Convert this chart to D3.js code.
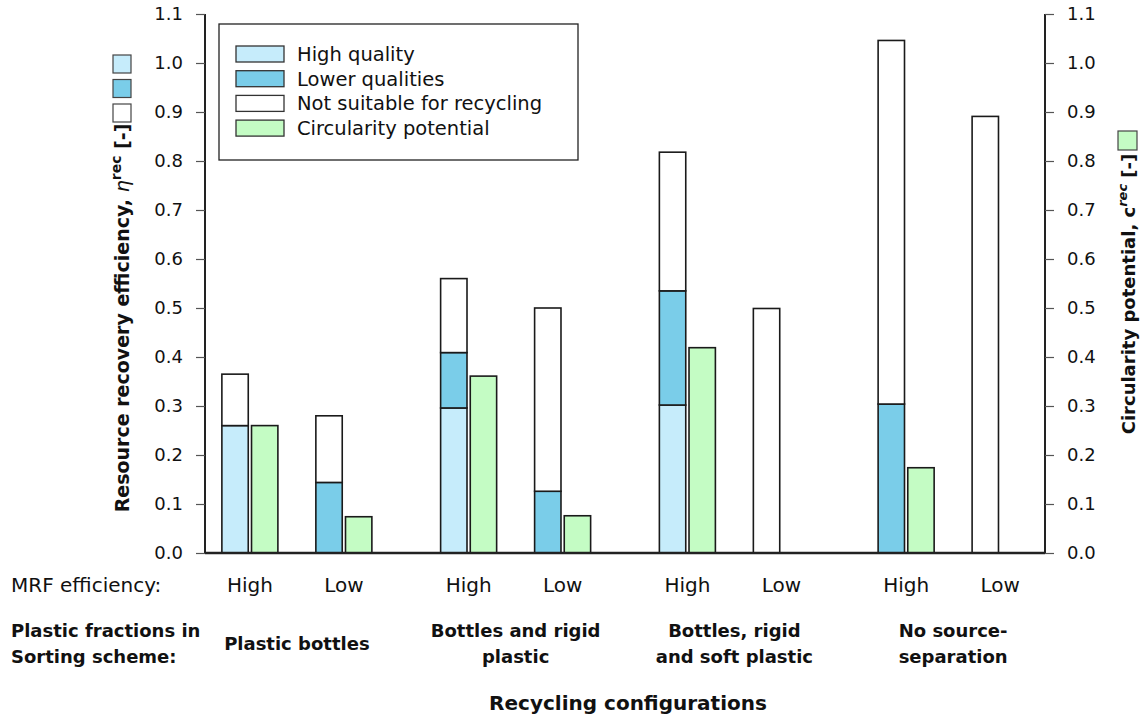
<!DOCTYPE html>
<html>
<head>
<meta charset="utf-8">
<script src="https://cdn.jsdelivr.net/npm/d3@7"></script>
<style>
  body { margin: 0; background: #fff; }
  svg { font-family: "DejaVu Sans", sans-serif; }
</style>
</head>
<body>
<div id="chart"></div>
<script>
// data
const groups = ["Plastic bottles", "Bottles and rigid plastic", "Bottles, rigid and soft plastic", "No source-separation"];
const groupLines = [["Plastic bottles"], ["Bottles and rigid", "plastic"], ["Bottles, rigid", "and soft plastic"], ["No source-", "separation"]];
const mrfLevels = ["High", "Low"];
// one entry per (group, MRF efficiency): G1 High, G1 Low, G2 High, ...
const highQuality    = [0.260, 0.000, 0.296, 0.000, 0.302, 0.000, 0.000, 0.000];
const lowerQualities = [0.000, 0.144, 0.113, 0.126, 0.233, 0.000, 0.304, 0.000];
const notSuitable    = [0.105, 0.136, 0.151, 0.374, 0.283, 0.499, 0.742, 0.891];
const circularity    = [0.260, 0.074, 0.361, 0.076, 0.419, 0.000, 0.174, 0.000];
const yTicks = [0, 0.1, 0.2, 0.3, 0.4, 0.5, 0.6, 0.7, 0.8, 0.9, 1.0, 1.1];
const legendLabels = ["High quality", "Lower qualities", "Not suitable for recycling", "Circularity potential"];

function recyclingChart() {
    const W = 1143, H = 720;
    const x0 = 205, x1 = 1045, yBottom = 553, yTop = 14;

    const svg = d3.select("#chart")
        .append("svg")
        .attr("width", W)
        .attr("height", H);

    const keys = ["hq", "lq", "ns"];
    const color = d3.scaleOrdinal()
        .domain(["hq", "lq", "ns", "circ"])
        .range(["#c6ecfb", "#7acde9", "#ffffff", "#c4fcc4"]);

    // build rows
    const rows = [];
    groups.forEach((g, gi) => {
        mrfLevels.forEach((m, mi) => {
            const i = gi * 2 + mi;
            rows.push({ group: g, mrf: m, hq: highQuality[i], lq: lowerQualities[i], ns: notSuitable[i], circ: circularity[i] });
        });
    });

    // scales
    const xGroup = d3.scalePoint().domain(groups).range([x0, x1]).padding(0.42);
    const xMrf = d3.scaleBand().domain(mrfLevels).range([-75, 75]).paddingInner(0.404);
    const xKind = d3.scaleBand().domain(["stack", "circ"]).range([0, xMrf.bandwidth()]).paddingInner(0.11);
    const y = d3.scaleLinear().domain([0, 1.1]).range([yBottom, yTop]);

    const barX = (d, kind) => xGroup(d.group) + xMrf(d.mrf) + xKind(kind);

    // stacked bars
    const stacked = d3.stack().keys(keys)(rows);
    svg.append("g")
        .selectAll("g")
        .data(stacked)
        .join("g")
        .attr("fill", d => color(d.key))
        .selectAll("rect")
        .data(d => d)
        .join("rect")
        .attr("x", d => barX(d.data, "stack"))
        .attr("y", d => y(d[1]))
        .attr("width", xKind.bandwidth())
        .attr("height", d => y(d[0]) - y(d[1]))
        .attr("stroke", "#1a1a1a")
        .attr("stroke-width", 1.6);

    // circularity bars
    svg.append("g")
        .selectAll("rect")
        .data(rows.filter(d => d.circ > 0))
        .join("rect")
        .attr("x", d => barX(d, "circ"))
        .attr("y", d => y(d.circ))
        .attr("width", xKind.bandwidth())
        .attr("height", d => y(0) - y(d.circ))
        .attr("fill", color("circ"))
        .attr("stroke", "#1a1a1a")
        .attr("stroke-width", 1.6);

    // axes
    const leftAxis = svg.append("g")
        .attr("transform", `translate(${x0},0)`)
        .call(d3.axisLeft(y).tickValues(yTicks).tickSize(9).tickPadding(13).tickFormat(d3.format(".1f")));
    const rightAxis = svg.append("g")
        .attr("transform", `translate(${x1},0)`)
        .call(d3.axisRight(y).tickValues(yTicks).tickSize(9).tickPadding(13).tickFormat(d3.format(".1f")));
    [leftAxis, rightAxis].forEach(ax => {
        ax.select(".domain").attr("stroke", "#222").attr("stroke-width", 2).attr("d", `M0,${yTop}V${yBottom}`);
        ax.selectAll(".tick line").attr("stroke", "#555").attr("stroke-width", 1.2);
        ax.selectAll(".tick text").attr("font-size", 18).attr("fill", "#111").attr("font-family", "DejaVu Sans");
    });
    svg.append("line")
        .attr("x1", x0).attr("x2", x1)
        .attr("y1", y(0)).attr("y2", y(0))
        .attr("stroke", "#222").attr("stroke-width", 2.4);

    // legend box
    const legend = svg.append("g").attr("transform", "translate(219,24)");
    legend.append("rect")
        .attr("width", 359).attr("height", 136)
        .attr("fill", "#fff").attr("stroke", "#222").attr("stroke-width", 1.3);
    const legendKeys = ["hq", "lq", "ns", "circ"];
    const items = legend.selectAll(".legend-item")
        .data(legendKeys)
        .join("g")
        .attr("class", "legend-item")
        .attr("transform", (d, i) => `translate(17, ${22 + i * 24.7})`);
    items.append("rect")
        .attr("width", 48).attr("height", 16)
        .attr("fill", d => color(d))
        .attr("stroke", "#333").attr("stroke-width", 1.3);
    items.append("text")
        .attr("x", 61).attr("y", 8)
        .attr("dy", "0.35em")
        .attr("font-size", 19.5)
        .attr("fill", "#111")
        .text((d, i) => legendLabels[i]);

    // left y title with key swatches
    const leftTitle = svg.append("text")
        .attr("transform", "translate(129,318) rotate(-90)")
        .attr("text-anchor", "middle")
        .attr("font-size", 19)
        .attr("font-weight", "bold")
        .attr("fill", "#111");
    leftTitle.append("tspan").text("Resource recovery efficiency, ");
    leftTitle.append("tspan").attr("font-style", "italic").attr("font-weight", "normal").text("η");
    leftTitle.append("tspan").attr("font-size", 14).attr("dy", -8).text("rec");
    leftTitle.append("tspan").attr("dy", 8).text(" [-]");

    svg.append("g")
        .selectAll("rect")
        .data(["hq", "lq", "ns"])
        .join("rect")
        .attr("x", 113)
        .attr("y", (d, i) => 55 + i * 24.5)
        .attr("width", 18).attr("height", 18)
        .attr("fill", d => color(d))
        .attr("stroke", "#444").attr("stroke-width", 1.2);

    // right y title with swatch
    const rightTitle = svg.append("text")
        .attr("transform", "translate(1135,294) rotate(-90)")
        .attr("text-anchor", "middle")
        .attr("font-size", 18)
        .attr("font-weight", "bold")
        .attr("fill", "#111");
    rightTitle.append("tspan").text("Circularity potential, c");
    rightTitle.append("tspan").attr("font-size", 13).attr("dy", -8).attr("font-style", "italic").text("rec");
    rightTitle.append("tspan").attr("dy", 8).text(" [-]");

    svg.append("rect")
        .attr("x", 1118).attr("y", 131)
        .attr("width", 19).attr("height", 19)
        .attr("fill", color("circ"))
        .attr("stroke", "#444").attr("stroke-width", 1.2);

    // MRF efficiency labels
    svg.append("text")
        .attr("x", 11).attr("y", 592)
        .attr("font-size", 20).attr("fill", "#111")
        .text("MRF efficiency:");
    svg.append("g")
        .selectAll("text")
        .data(rows)
        .join("text")
        .attr("x", d => xGroup(d.group) + xMrf(d.mrf) + xMrf.bandwidth() / 2)
        .attr("y", 592)
        .attr("text-anchor", "middle")
        .attr("font-size", 20).attr("fill", "#111")
        .text(d => d.mrf);

    // sorting scheme labels
    const rowLabel = svg.append("text")
        .attr("x", 11).attr("y", 637)
        .attr("font-size", 18).attr("font-weight", "bold").attr("fill", "#111");
    rowLabel.append("tspan").attr("x", 11).text("Plastic fractions in");
    rowLabel.append("tspan").attr("x", 11).attr("dy", 26).text("Sorting scheme:");

    svg.append("g")
        .selectAll("text")
        .data(groups)
        .join("text")
        .attr("y", (d, i) => groupLines[i].length === 1 ? 650 : 637)
        .attr("text-anchor", "middle")
        .attr("font-size", 18).attr("font-weight", "bold").attr("fill", "#111")
        .selectAll("tspan")
        .data((d, i) => groupLines[i].map(t => ({ g: d, t })))
        .join("tspan")
        .attr("x", d => xGroup(d.g))
        .attr("dy", (d, i) => i === 0 ? 0 : 26)
        .text(d => d.t);

    // x title
    svg.append("text")
        .attr("x", 628).attr("y", 710)
        .attr("text-anchor", "middle")
        .attr("font-size", 20).attr("font-weight", "bold").attr("fill", "#111")
        .text("Recycling configurations");
}

recyclingChart();
</script>
</body>
</html>
